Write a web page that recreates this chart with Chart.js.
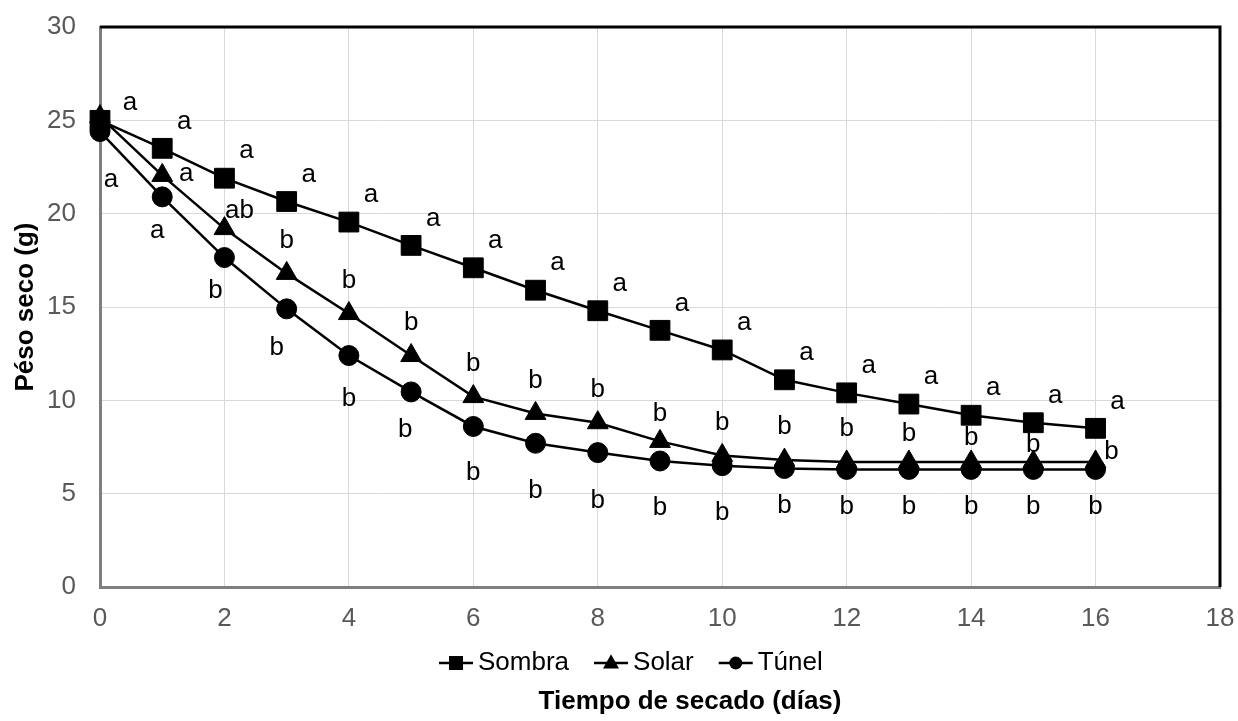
<!DOCTYPE html>
<html>
<head>
<meta charset="utf-8">
<script src="https://cdn.jsdelivr.net/npm/chart.js@4.4.0/dist/chart.umd.min.js"></script>
<style>
    html, body { margin: 0; padding: 0; background: #fff; }
    #wrap { width: 1238px; height: 721px; }
</style>
</head>
<body>
<div id="wrap"><canvas id="chart" width="1238" height="721"></canvas></div>
<script>
// Data
const days = [0, 1, 2, 3, 4, 5, 6, 7, 8, 9, 10, 11, 12, 13, 14, 15, 16];
const sombra = [25.0, 23.5, 21.9, 20.65, 19.55, 18.3, 17.1, 15.9, 14.8, 13.75, 12.7, 11.1, 10.4, 9.8, 9.2, 8.8, 8.5];
const solar = [25.2, 22.05, 19.2, 16.8, 14.65, 12.4, 10.2, 9.3, 8.8, 7.8, 7.05, 6.8, 6.7, 6.7, 6.7, 6.7, 6.7];
const tunel = [24.4, 20.9, 17.65, 14.9, 12.4, 10.45, 8.6, 7.7, 7.2, 6.75, 6.5, 6.35, 6.3, 6.3, 6.3, 6.3, 6.3];

const sombraLetters = ['a', 'a', 'a', 'a', 'a', 'a', 'a', 'a', 'a', 'a', 'a', 'a', 'a', 'a', 'a', 'a', 'a'];
const solarLetters = ['', 'a', 'ab', 'b', 'b', 'b', 'b', 'b', 'b', 'b', 'b', 'b', 'b', 'b', 'b', 'b', 'b'];
const tunelLetters = ['a', 'a', 'b', 'b', 'b', 'b', 'b', 'b', 'b', 'b', 'b', 'b', 'b', 'b', 'b', 'b', 'b'];

const seriesNames = ['Sombra', 'Solar', 'Túnel'];
const xTitle = 'Tiempo de secado (días)';
const yTitle = 'Péso seco (g)';

const FONT = "'Liberation Sans', Arial, sans-serif";

// Label nudges (pixels from the point), per series
const labelNudge = {
    0: { def: [22, -27], at: { 0: [30, -18] } },
    1: { def: [0, -33], at: { 1: [24, -2], 2: [15, -18], 9: [0, -28], 13: [0, -28], 14: [0, -24], 15: [0, -17], 16: [16, -10] } },
    2: { def: [0, 37], at: { 0: [11, 48], 1: [-5, 34], 2: [-9, 33], 3: [-10, 39], 4: [0, 43], 5: [-6, 38], 6: [0, 46], 7: [0, 48], 8: [0, 48], 9: [0, 47], 10: [0, 47] } }
};
const letterSets = [sombraLetters, solarLetters, tunelLetters];

const toPoints = arr => days.map((d, i) => ({ x: d, y: arr[i] }));

// Letters next to the points
const lettersPlugin = {
    id: 'letters',
    afterDatasetsDraw(chart) {
        const ctx = chart.ctx;
        ctx.save();
        ctx.font = `26px ${FONT}`;
        ctx.fillStyle = '#000';
        ctx.textAlign = 'center';
        ctx.textBaseline = 'middle';
        chart.data.datasets.forEach((ds, di) => {
            const meta = chart.getDatasetMeta(di);
            const nudge = labelNudge[di];
            meta.data.forEach((pt, i) => {
                const txt = letterSets[di][i];
                if (!txt) return;
                const off = nudge.at[i] || nudge.def;
                ctx.fillText(txt, pt.x + off[0], pt.y + off[1]);
            });
        });
        ctx.restore();
    }
};

// Black frame on top/right like the original
const framePlugin = {
    id: 'frame',
    beforeDatasetsDraw(chart) {
        const { ctx, chartArea: a } = chart;
        ctx.save();
        ctx.strokeStyle = '#000';
        ctx.lineWidth = 3;
        ctx.beginPath();
        ctx.moveTo(a.left, a.top);
        ctx.lineTo(a.right, a.top);
        ctx.lineTo(a.right, a.bottom);
        ctx.stroke();
        ctx.restore();
    }
};

function drawMarker(ctx, style, x, y, r) {
    ctx.beginPath();
    if (style === 'rect') {
        ctx.rect(x - r, y - r, 2 * r, 2 * r);
    } else if (style === 'triangle') {
        ctx.moveTo(x, y - r * 1.1);
        ctx.lineTo(x + r, y + r * 0.7);
        ctx.lineTo(x - r, y + r * 0.7);
        ctx.closePath();
    } else {
        ctx.arc(x, y, r, 0, Math.PI * 2);
    }
    ctx.fill();
}

// Legend and x title drawn below the axis
const bottomPlugin = {
    id: 'bottomText',
    afterDraw(chart) {
        const ctx = chart.ctx;
        ctx.save();
        ctx.font = `26px ${FONT}`;
        ctx.textBaseline = 'middle';
        ctx.fillStyle = '#000';
        ctx.strokeStyle = '#000';
        const styles = ['rect', 'triangle', 'circle'];
        const sizes = [7, 8, 6.5];
        let x = 439;
        const y = 663;
        seriesNames.forEach((name, i) => {
            ctx.lineWidth = 2.5;
            ctx.beginPath();
            ctx.moveTo(x, y);
            ctx.lineTo(x + 34, y);
            ctx.stroke();
            drawMarker(ctx, styles[i], x + 17, y, sizes[i]);
            ctx.textAlign = 'left';
            ctx.fillText(name, x + 39, y);
            x += 39 + ctx.measureText(name).width + 25;
        });
        ctx.font = `bold 26px ${FONT}`;
        ctx.textAlign = 'center';
        ctx.fillText(xTitle, 690, 702);
        ctx.restore();
    }
};

const lineDs = (label, values, style, radius, order) => ({
    label,
    data: toPoints(values),
    borderColor: '#000',
    backgroundColor: '#000',
    borderWidth: 2.5,
    pointStyle: style,
    pointRadius: radius,
    pointHoverRadius: radius,
    pointBackgroundColor: '#000',
    pointBorderColor: '#000',
    pointBorderWidth: 1,
    tension: 0,
    clip: false,
    order
});

// keep the plot box where the original has it
function noPad(scale) {
    scale.paddingTop = 0;
    scale.paddingBottom = 0;
    scale.paddingLeft = 0;
    scale.paddingRight = 0;
}

new Chart(document.getElementById('chart'), {
    type: 'line',
    data: {
        datasets: [
            lineDs(seriesNames[0], sombra, 'rect', 14, 2),
            lineDs(seriesNames[1], solar, 'triangle', 12, 1),
            lineDs(seriesNames[2], tunel, 'circle', 10, 0)
        ]
    },
    options: {
        responsive: false,
        animation: false,
        layout: { padding: { top: 27, right: 18, left: 0, bottom: 0 } },
        plugins: {
            legend: { display: false },
            tooltip: { enabled: false }
        },
        scales: {
            x: {
                type: 'linear',
                min: 0,
                max: 18,
                ticks: {
                    stepSize: 2,
                    color: '#595959',
                    font: { family: FONT, size: 26 },
                    padding: 16
                },
                grid: { color: '#d9d9d9', lineWidth: 1, drawTicks: false },
                border: { color: '#7f7f7f', width: 3 },
                afterFit(scale) { scale.height = 134; noPad(scale); }
            },
            y: {
                min: 0,
                max: 30,
                ticks: {
                    stepSize: 5,
                    color: '#595959',
                    font: { family: FONT, size: 26 },
                    padding: 24
                },
                grid: { color: '#d9d9d9', lineWidth: 1, drawTicks: false },
                border: { color: '#7f7f7f', width: 3 },
                title: {
                    display: true,
                    text: yTitle,
                    color: '#000',
                    font: { family: FONT, size: 26, weight: 'bold' },
                    padding: { top: 10, bottom: 0 }
                },
                afterFit(scale) { scale.width = 100; noPad(scale); }
            }
        }
    },
    plugins: [framePlugin, lettersPlugin, bottomPlugin]
});
</script>
</body>
</html>
